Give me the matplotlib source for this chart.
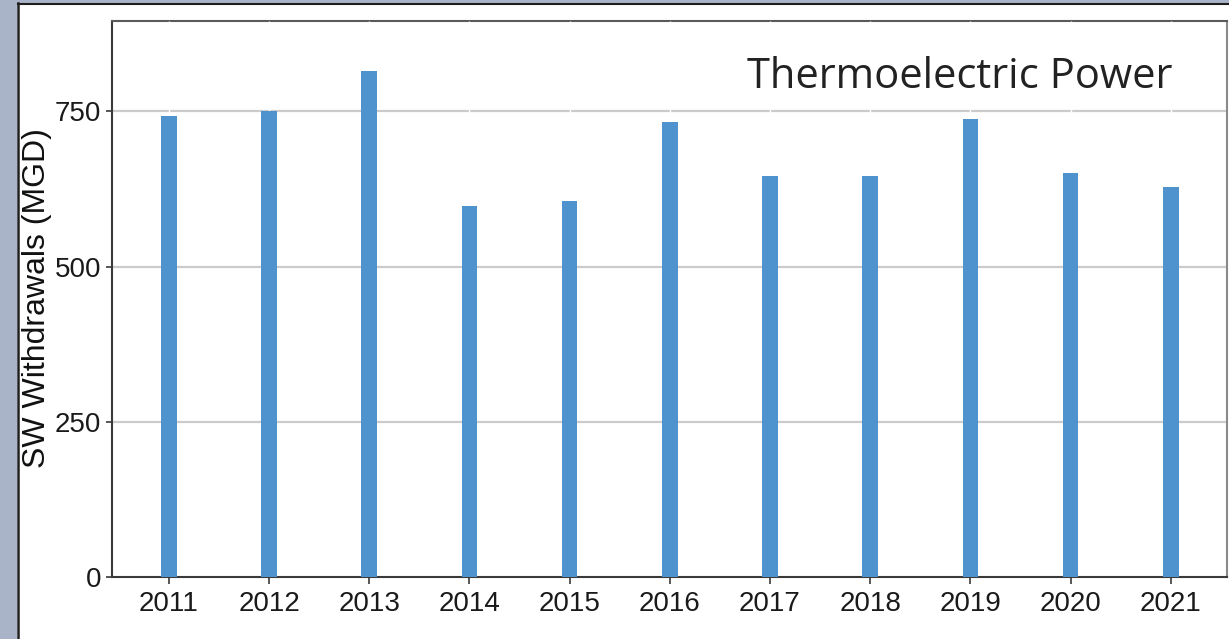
import matplotlib
matplotlib.use("Agg")
import matplotlib.pyplot as plt
from matplotlib.patches import Rectangle
from matplotlib.lines import Line2D

# data
years = [2011, 2012, 2013, 2014, 2015, 2016, 2017, 2018, 2019, 2020, 2021]
withdrawals = [743, 751, 815, 597, 606, 733, 646, 646, 738, 651, 628]
yticks = [0, 250, 500, 750]

W, H = 1229, 639
fig = plt.figure(figsize=(W / 100, H / 100), dpi=100)
fig.patch.set_facecolor("white")

# screenshot frame: grey-blue strip on the left and top, dark border line
fig.patches.append(Rectangle((0, 0), 17 / W, 1, transform=fig.transFigure,
                             facecolor="#a9b4c9", edgecolor="none", zorder=0))
fig.patches.append(Rectangle((0, 1 - 3 / H), 1, 3 / H, transform=fig.transFigure,
                             facecolor="#a9b4c9", edgecolor="none", zorder=0))
fig.lines.append(Line2D([18 / W, 18 / W], [0, 1 - 3 / H], transform=fig.transFigure,
                        color="#1e1e1e", lw=1.8))
fig.lines.append(Line2D([18 / W, 1], [1 - 3.5 / H, 1 - 3.5 / H], transform=fig.transFigure,
                        color="#1e1e1e", lw=1.5))

ax = fig.add_axes([112 / W, 62 / H, 1115 / W, 556.3 / H])
ax.set_xlim(2010.433, 2021.561)
ax.set_ylim(0, 896)

ax.bar(years, withdrawals, width=0.157, color="#4e93cd", zorder=3)

# grey horizontal grid with thin white vertical breaks at each year
for v in yticks[1:]:
    ax.axhline(v, color="#cbcbcb", lw=1.6, zorder=1)
ax.vlines(years, 5, 896, color="white", lw=1.0, zorder=2.6, clip_on=False)

for side in ["left", "bottom"]:
    ax.spines[side].set_color("#3a3a3a")
    ax.spines[side].set_linewidth(1.5)
ax.spines["top"].set_color("#5a5a5a")
ax.spines["top"].set_linewidth(1.5)
ax.spines["right"].set_color("#8a8a8a")
ax.spines["right"].set_linewidth(1.5)

tick_font = ["Liberation Sans Narrow", "Liberation Sans", "DejaVu Sans"]
ax.set_xticks(years)
ax.set_xticklabels([str(y) for y in years], family=tick_font, fontsize=20, color="#1a1a1a")
ax.set_yticks(yticks)
ax.set_yticklabels([str(v) for v in yticks], family=tick_font, fontsize=20, color="#1a1a1a")
ax.tick_params(axis="x", length=5, width=1.2, color="#3a3a3a", pad=5)
ax.tick_params(axis="y", length=4.5, width=1.2, color="#3a3a3a", pad=3.5)

fig.text(37 / W, 1 - 298 / H, "SW Withdrawals (MGD)", rotation=90,
         ha="center", va="center", family=["Liberation Sans", "DejaVu Sans"],
         fontsize=23, color="#111111")

ax.text((1172 - 112) / 1115, (577 - 88) / 556.3, "Thermoelectric Power",
        transform=ax.transAxes, ha="right", va="baseline",
        family=["Open Sans", "DejaVu Sans"], fontsize=30, color="#222222", zorder=5)

fig.savefig("out.png", dpi=100)
